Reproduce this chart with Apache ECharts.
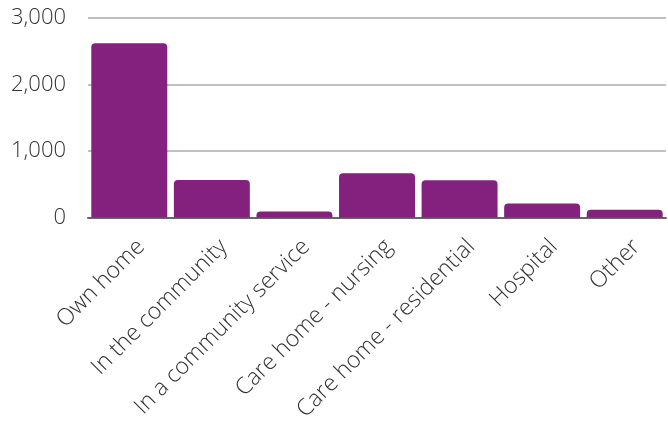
<!DOCTYPE html>
<html><head><meta charset="utf-8">
<script src="https://cdn.jsdelivr.net/npm/echarts@6/dist/echarts.min.js"></script>
<style>html,body{margin:0;padding:0;background:#fff}#c{width:668px;height:428px}</style>
</head><body><div id="c"></div>
<script>
const categories = ["Own home","In the community","In a community service","Care home - nursing","Care home - residential","Hospital","Other"];
const values = [2620, 565, 90, 665, 560, 210, 115];
const yTicks = [0, 1000, 2000, 3000];

const chart = echarts.init(document.getElementById('c'), null, {renderer:'canvas'});
chart.setOption({
  animation:false,
  grid:{left:88, right:2, top:18, bottom:210.5, containLabel:false},
  xAxis:{type:'category', data:categories,
    axisLine:{lineStyle:{color:'#666', width:2}},
    axisTick:{show:false},
    axisLabel:{rotate:45, interval:0, margin:14, verticalAlign:'top', padding:[5,0,0,0],
      fontFamily:'Open Sans', fontWeight:300, fontSize:23, color:'#333'}},
  yAxis:{type:'value', min:yTicks[0], max:yTicks[yTicks.length-1], interval:1000,
    axisLine:{show:false}, axisTick:{show:false},
    splitLine:{lineStyle:{color:'#c0c0c0', width:2}},
    axisLabel:{margin:22, fontFamily:'Open Sans', fontWeight:300, fontSize:22, color:'#333',
      formatter:v=>v.toLocaleString('en-US')}},
  series:[{type:'bar', data:values, barCategoryGap:'8%',
    itemStyle:{color:'#84217F', borderRadius:[4,4,0,0]}}]
});
</script></body></html>
